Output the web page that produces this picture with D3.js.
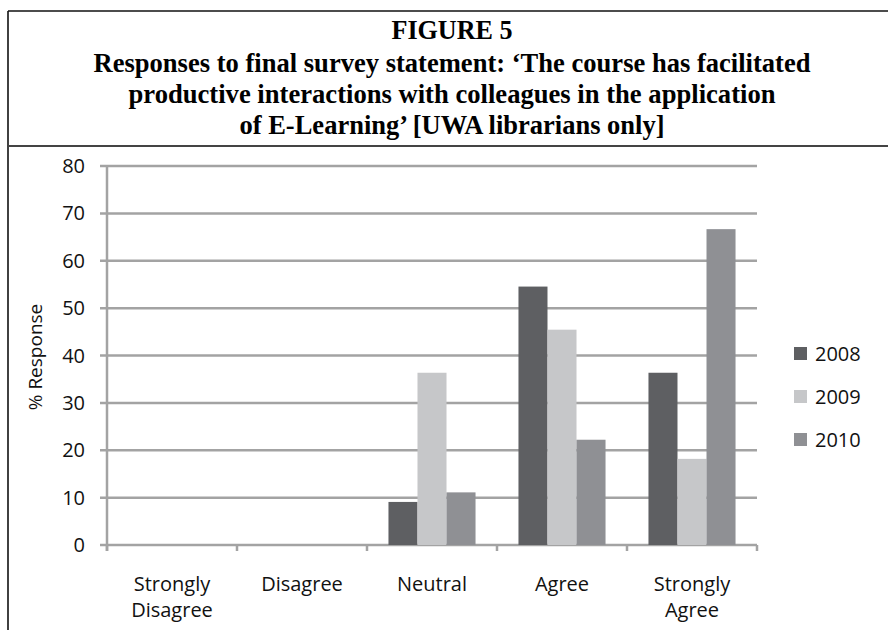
<!DOCTYPE html>
<html lang="en">
	<head>
		<meta charset="utf-8">
		<title>Figure 5 - Responses to final survey statement</title>
		<script src="https://d3js.org/d3.v7.min.js"></script>
		<style>
			body{
				margin: 0;
				background: #fff;
			}
			.lbl{
				font-family: 'Open Sans', sans-serif;
				fill: #111;
			}
		</style>
	</head>
	<body>
		<script>
			//Width and height
			var w = 888;
			var h = 630;

			//Static dataset (% response)
			var categories = [["Strongly", "Disagree"], ["Disagree"], ["Neutral"], ["Agree"], ["Strongly", "Agree"]];
			var years = ["2008", "2009", "2010"];
			var values2008 = [0, 0, 9.09, 54.55, 36.36];
			var values2009 = [0, 0, 36.36, 45.45, 18.18];
			var values2010 = [0, 0, 11.11, 22.22, 66.67];
			var yTicks = [0, 10, 20, 30, 40, 50, 60, 70, 80];
			var colors = ["#5e5f62", "#c6c7c9", "#8f9094"];

			var titleLines = [
				"FIGURE 5",
				"Responses to final survey statement: \u2018The course has facilitated",
				"productive interactions with colleagues in the application",
				"of E-Learning\u2019 [UWA librarians only]"
			];
			var titleWidths = [121, 717, 647, 425]; //measured widths, the print font is narrow

			var series = [values2008, values2009, values2010];

			//Create SVG element
			var svg = d3.select("body")
						.append("svg")
						.attr("width", w)
						.attr("height", h);

			//FRAME
			svg.append("line")
				.attr("x1", 8).attr("x2", w).attr("y1", 11).attr("y2", 11)
				.attr("stroke", "#111").attr("stroke-width", 1.6);
			svg.append("line")
				.attr("x1", 8).attr("x2", 8).attr("y1", 11).attr("y2", h)
				.attr("stroke", "#111").attr("stroke-width", 1.6);
			svg.append("line")
				.attr("x1", 8).attr("x2", w).attr("y1", 146).attr("y2", 146)
				.attr("stroke", "#444").attr("stroke-width", 2);

			//TITLE
			svg.selectAll("text.title")
			   .data(titleLines)
			   .enter()
			   .append("text")
			   .attr("class", "title")
			   .attr("x", 452)
			   .attr("y", function(d, i) { return i === 0 ? 39 : 72 + (i - 1) * 31; })
			   .attr("text-anchor", "middle")
			   .attr("font-family", "'Liberation Serif', 'Times New Roman', serif")
			   .attr("font-weight", "bold")
			   .attr("font-size", "28px")
			   .attr("textLength", function(d, i) { return titleWidths[i]; })
			   .attr("lengthAdjust", "spacingAndGlyphs")
			   .attr("fill", "#000")
			   .text(function(d) { return d; });

			//Create scale functions
			var xScale = d3.scaleBand()
						   .domain(d3.range(categories.length))
						   .range([107, 757])
						   .padding(0);

			var xInner = d3.scaleBand()
						   .domain(years)
						   .range([0, xScale.bandwidth()])
						   .paddingInner(0)
						   .paddingOuter(0.74);

			var yScale = d3.scaleLinear()
						   .domain([0, 80])
						   .range([545, 166]);

			//GRIDLINES
			svg.selectAll("line.grid")
			   .data(yTicks)
			   .enter()
			   .append("line")
			   .attr("class", "grid")
			   .attr("x1", 100)
			   .attr("x2", 757)
			   .attr("y1", function(d) { return yScale(d); })
			   .attr("y2", function(d) { return yScale(d); })
			   .attr("stroke", "#a3a3a3")
			   .attr("stroke-width", 2.5);

			//Y-AXIS line
			svg.append("line")
				.attr("x1", 107).attr("x2", 107)
				.attr("y1", yScale(80) - 1).attr("y2", yScale(0) + 6)
				.attr("stroke", "#a3a3a3").attr("stroke-width", 2.5);

			//category ticks
			svg.selectAll("line.ctick")
			   .data(d3.range(categories.length + 1))
			   .enter()
			   .append("line")
			   .attr("class", "ctick")
			   .attr("x1", function(d) { return 107 + d * xScale.step(); })
			   .attr("x2", function(d) { return 107 + d * xScale.step(); })
			   .attr("y1", yScale(0))
			   .attr("y2", yScale(0) + 6)
			   .attr("stroke", "#a3a3a3")
			   .attr("stroke-width", 2.5);

			//BARS
			series.forEach(function(vals, s) {
				svg.selectAll("rect.s" + s)
				   .data(vals)
				   .enter()
				   .append("rect")
				   .attr("class", "s" + s)
				   .attr("x", function(d, i) { return xScale(i) + xInner(years[s]); })
				   .attr("y", function(d) { return yScale(d); })
				   .attr("width", xInner.bandwidth())
				   .attr("height", function(d) { return yScale(0) - yScale(d); })
				   .attr("fill", colors[s]);
			});

			//Y tick labels
			svg.selectAll("text.ytick")
			   .data(yTicks)
			   .enter()
			   .append("text")
			   .attr("class", "ytick lbl")
			   .attr("x", 85)
			   .attr("y", function(d) { return yScale(d) + 7; })
			   .attr("text-anchor", "end")
			   .attr("font-size", "20px")
			   .text(function(d) { return d; });

			//X category labels
			categories.forEach(function(lines, i) {
				lines.forEach(function(t, j) {
					svg.append("text")
					   .attr("class", "lbl")
					   .attr("x", xScale(i) + xScale.bandwidth() / 2)
					   .attr("y", 591 + j * 26)
					   .attr("text-anchor", "middle")
					   .attr("font-size", "20px")
					   .text(t);
				});
			});

			//Y axis title
			svg.append("text")
				.attr("class", "lbl")
				.attr("transform", "translate(42,357) rotate(-90)")
				.attr("text-anchor", "middle")
				.attr("font-size", "19px")
				.text("% Response");

			//LEGEND
			var legend = svg.selectAll("g.legend")
							.data(years)
							.enter()
							.append("g")
							.attr("class", "legend")
							.attr("transform", function(d, i) { return "translate(794," + (347 + i * 43) + ")"; });

			legend.append("rect")
				  .attr("width", 13)
				  .attr("height", 13)
				  .attr("fill", function(d, i) { return colors[i]; });

			legend.append("text")
				  .attr("class", "lbl")
				  .attr("x", 21)
				  .attr("y", 14)
				  .attr("font-size", "20px")
				  .text(function(d) { return d; });
		</script>
	</body>
</html>
